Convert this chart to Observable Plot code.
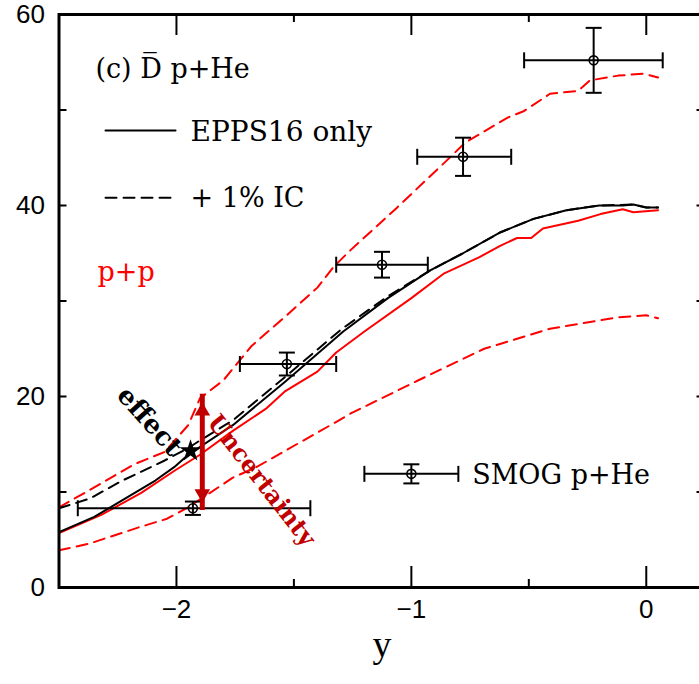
<!DOCTYPE html>
<html><head><meta charset="utf-8">
<script src="https://cdn.jsdelivr.net/npm/d3@7"></script>
<script src="https://cdn.jsdelivr.net/npm/@observablehq/plot@0.6"></script>
<style>
body{margin:0;background:#fff;}
#wrap{width:699px;height:684px;overflow:hidden;position:relative;}
#wrap svg{max-width:none !important;height:684px !important;width:706px !important;display:block;}
</style></head><body><div id="wrap"></div>
<script>
// EPPS16 only (black solid)
const eppsX = [-2.5, -2.35, -2.26, -2.09, -2.01, -1.95, -1.76, -1.54, -1.29, -1.1, -0.92, -0.78, -0.62, -0.48, -0.34, -0.2, -0.1, -0.055, 0.0, 0.05];
const eppsY = [5.8, 7.4, 8.7, 11.2, 12.6, 13.9, 17.0, 21.5, 26.8, 30.3, 33.2, 35.0, 37.2, 38.6, 39.5, 40.0, 40.0, 40.1, 39.8, 39.8];
// + 1% IC (black dashed)
const icX = [-2.5, -2.37, -2.23, -2.05, -1.95, -1.9, -1.76, -1.54, -1.3, -1.1, -0.92, -0.78, -0.62, -0.48, -0.34, -0.2, -0.055, 0.0, 0.05];
const icY = [8.3, 9.3, 11.2, 13.3, 14.6, 15.4, 17.5, 22.0, 27.0, 30.5, 33.2, 35.0, 37.2, 38.6, 39.5, 40.0, 40.1, 39.8, 39.8];
// p+p central (red solid)
const ppX = [-2.5, -2.32, -2.15, -2.01, -1.9, -1.76, -1.62, -1.54, -1.4, -1.32, -1.2, -1.0, -0.86, -0.71, -0.62, -0.55, -0.49, -0.44, -0.29, -0.195, -0.1, -0.055, 0.05];
const ppY = [5.7, 7.6, 9.9, 12.2, 13.9, 16.4, 18.7, 20.5, 22.6, 24.6, 26.8, 30.3, 32.9, 34.6, 35.8, 36.6, 36.6, 37.6, 38.4, 39.1, 39.6, 39.3, 39.5];
// p+p upper band (red dashed)
const ppHiX = [-2.5, -2.37, -2.18, -2.05, -1.95, -1.9, -1.8, -1.73, -1.68, -1.54, -1.4, -1.33, -1.26, -1.06, -0.85, -0.77, -0.59, -0.52, -0.41, -0.29, -0.24, -0.12, -0.01, 0.05];
const ppHiY = [8.4, 10.2, 12.9, 14.2, 17.0, 19.8, 21.7, 23.8, 25.3, 28.3, 31.4, 33.6, 35.3, 39.8, 44.7, 46.6, 49.2, 49.9, 51.7, 52.0, 53.1, 53.6, 53.8, 53.4];
// p+p lower band (red dashed)
const ppLoX = [-2.5, -2.37, -2.16, -2.04, -1.95, -1.76, -1.66, -1.33, -1.26, -0.97, -0.69, -0.41, -0.12, 0.0, 0.05];
const ppLoY = [3.9, 4.6, 6.3, 7.2, 8.4, 11.5, 12.6, 17.2, 18.2, 21.7, 25.0, 27.1, 28.3, 28.5, 28.2];
// SMOG p+He data
const smogX = [-1.93, -1.53, -1.125, -0.78, -0.224];
const smogXLo = [-2.42, -1.73, -1.32, -0.975, -0.52];
const smogXHi = [-1.43, -1.32, -0.93, -0.575, 0.07];
const smogVal = [8.3, 23.4, 33.8, 45.1, 55.2];
const smogErr = [0.7, 1.2, 1.35, 2.0, 3.4];
// legend sample point
const legX = [-1.0], legXLo = [-1.2], legXHi = [-0.8], legVal = [11.9], legErr = [1.0];
// star (effect)
const starX = [-1.94], starY = [14.3];
// uncertainty arrow
const arrX = [-1.89], arrLo = [8.9], arrHi = [19.4];
// ticks
const xMajor = [-2, -1, 0];
const xMinor = [-1.5, -0.5];
const yMajor = [0, 20, 40, 60];
const yMinor = [10, 30, 50];

const rows = (xs, ys) => xs.map((x, i) => ({x, y: ys[i]}));
const smog = smogX.map((x, i) => ({x, lo: smogXLo[i], hi: smogXHi[i], v: smogVal[i], e: smogErr[i]}));
const leg = legX.map((x, i) => ({x, lo: legXLo[i], hi: legXHi[i], v: legVal[i], e: legErr[i]}));

const vbar = {draw(ctx, size) { const h = Math.sqrt(size / Math.PI); ctx.moveTo(0, -h); ctx.lineTo(0, h); }};
const hbar = {draw(ctx, size) { const h = Math.sqrt(size / Math.PI); ctx.moveTo(-h, 0); ctx.lineTo(h, 0); }};

const W = 706, ML = 58.5, MR = 1.5, MT = 14, MB = 97, H = 684;
const innerW = W - ML - MR, innerH = H - MT - MB;
const fmt = d => d < 0 ? "\u2212" + Math.abs(d) : String(d);
const serif = "DejaVu Serif";
const RED = "#ff0000", DRED = "#c00000";
const dash = "11,7";

function errMarks(data) {
  return [
    Plot.ruleY(data, {y: "v", x1: "lo", x2: "hi", stroke: "black", strokeWidth: 2}),
    Plot.ruleX(data, {x: "x", y1: d => d.v - d.e, y2: d => d.v + d.e, stroke: "black", strokeWidth: 2}),
    Plot.dot(data, {x: "lo", y: "v", symbol: vbar, r: 8, stroke: "black", strokeWidth: 2}),
    Plot.dot(data, {x: "hi", y: "v", symbol: vbar, r: 8, stroke: "black", strokeWidth: 2}),
    Plot.dot(data, {x: "x", y: d => d.v - d.e, symbol: hbar, r: 8, stroke: "black", strokeWidth: 2}),
    Plot.dot(data, {x: "x", y: d => d.v + d.e, symbol: hbar, r: 8, stroke: "black", strokeWidth: 2}),
    Plot.dot(data, {x: "x", y: "v", r: 4.5, stroke: "black", strokeWidth: 1.6, fill: "none"})
  ];
}

const arrow = arrX.map((x, i) => ({x, lo: arrLo[i], hi: arrHi[i]}));

const chart = Plot.plot({
  width: W, height: H,
  marginLeft: ML, marginRight: MR, marginTop: MT, marginBottom: MB,
  x: {domain: [-2.5, 0.25], axis: null},
  y: {domain: [0, 60], axis: null},
  style: {fontFamily: "Liberation Sans", background: "white", overflow: "visible", maxWidth: "none"},
  marks: [
    // curves
    Plot.line(rows(ppLoX, ppLoY), {x: "x", y: "y", stroke: RED, strokeWidth: 2, strokeDasharray: dash}),
    Plot.line(rows(ppHiX, ppHiY), {x: "x", y: "y", stroke: RED, strokeWidth: 2, strokeDasharray: dash}),
    Plot.line(rows(ppX, ppY), {x: "x", y: "y", stroke: RED, strokeWidth: 2}),
    Plot.line(rows(eppsX, eppsY), {x: "x", y: "y", stroke: "black", strokeWidth: 2}),
    Plot.line(rows(icX, icY), {x: "x", y: "y", stroke: "black", strokeWidth: 2, strokeDasharray: dash}),
    // data
    ...errMarks(smog),
    ...errMarks(leg),
    // star
    Plot.dot(rows(starX, starY), {x: "x", y: "y", symbol: "star", r: 7, fill: "black"}),
    // arrow
    Plot.ruleX(arrow, {x: "x", y1: "lo", y2: "hi", stroke: DRED, strokeWidth: 5, insetTop: 8, insetBottom: 8}),
    Plot.dot(arrow, {x: "x", y: "hi", dy: 8.7, symbol: "triangle", r: 5.8, fill: DRED}),
    Plot.dot(arrow, {x: "x", y: "lo", dy: -8.7, symbol: "triangle", rotate: 180, r: 5.8, fill: DRED}),
    // rotated annotations
    Plot.text(["effect"], {x: -2.115, y: 17.4, rotate: 48, fontSize: 26, fontWeight: "bold", fontFamily: serif, fill: "black"}),
    Plot.text(["Uncertainty"], {x: -1.638, y: 11.2, rotate: 52, fontSize: 24, fontWeight: "bold", fontFamily: serif, fill: DRED}),
    // legend
    Plot.text(["(c) D\u0305 p+He"], {x: -2.345, y: 53.4, textAnchor: "start", lineAnchor: "bottom", fontSize: 27, fontFamily: serif, fill: "black"}),
    Plot.line([{x: -2.302, y: 47.85}, {x: -2.004, y: 47.85}], {x: "x", y: "y", stroke: "black", strokeWidth: 2}),
    Plot.text(["EPPS16 only"], {x: -1.94, y: 46.8, textAnchor: "start", lineAnchor: "bottom", fontSize: 28, fontFamily: serif, fill: "black"}),
    Plot.line([{x: -2.302, y: 40.8}, {x: -2.004, y: 40.8}], {x: "x", y: "y", stroke: "black", strokeWidth: 2, strokeDasharray: dash}),
    Plot.text(["+ 1% IC"], {x: -1.94, y: 39.8, textAnchor: "start", lineAnchor: "bottom", fontSize: 27, fontFamily: serif, fill: "black"}),
    Plot.text(["p+p"], {x: -2.336, y: 32.1, textAnchor: "start", lineAnchor: "bottom", fontSize: 27, fontFamily: serif, fill: RED}),
    Plot.text(["SMOG p+He"], {x: -0.741, y: 10.8, textAnchor: "start", lineAnchor: "bottom", fontSize: 27, fontFamily: serif, fill: "black"}),
    // ticks (inward)
    Plot.ruleX(xMajor, {x: d => d, insetTop: innerH - 21, stroke: "black", strokeWidth: 2}),
    Plot.ruleX(xMajor, {x: d => d, insetBottom: innerH - 21, stroke: "black", strokeWidth: 2}),
    Plot.ruleX(xMinor, {x: d => d, insetTop: innerH - 8, stroke: "black", strokeWidth: 2}),
    Plot.ruleX(xMinor, {x: d => d, insetBottom: innerH - 8, stroke: "black", strokeWidth: 2}),
    Plot.ruleY(yMajor.concat(yMinor), {y: d => d, insetRight: innerW - 8, stroke: "black", strokeWidth: 2}),
    Plot.ruleY(yMajor.concat(yMinor), {y: d => d, insetLeft: innerW - 8, stroke: "black", strokeWidth: 2}),
    Plot.frame({stroke: "black", strokeWidth: 3}),
    // tick labels
    Plot.text(xMajor, {x: d => d, frameAnchor: "bottom", dy: 30, text: fmt, fontSize: 26, fill: "black"}),
    Plot.text(yMajor, {y: d => d, frameAnchor: "left", dx: -14, textAnchor: "end", text: fmt, fontSize: 26, fill: "black"}),
    Plot.text(["y"], {frameAnchor: "bottom", dy: 69, fontSize: 38, fontFamily: "Liberation Serif", fill: "black"})
  ]
});
document.getElementById("wrap").appendChild(chart);
</script>
</body></html>
